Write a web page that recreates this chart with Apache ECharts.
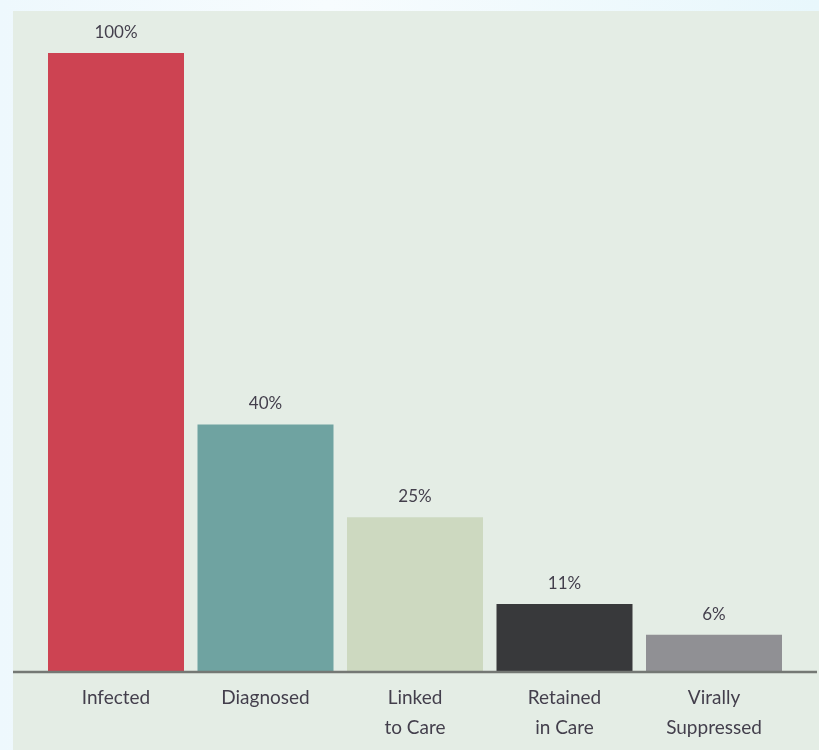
<!DOCTYPE html>
<html>
<head>
<meta charset="utf-8">
<script src="https://cdn.jsdelivr.net/npm/echarts@6/dist/echarts.min.js"></script>
<style>
  html, body { margin: 0; padding: 0; }
  body { background: linear-gradient(90deg, #eef8fd 0%, #f7fcfe 40%, #e8f7fc 100%); }
  #chart { width: 819px; height: 750px; }
</style>
</head>
<body>
<div id="chart"></div>
<script>
// HIV care cascade
const categories = ['Infected', 'Diagnosed', 'Linked\nto Care', 'Retained\nin Care', 'Virally\nSuppressed'];
const values = [100, 40, 25, 11, 6];
const barColors = ['#cd4352', '#6fa3a1', '#cdd9c0', '#38393b', '#909094'];

const textColor = '#433f4c';
const fontFamily = 'Lato, "Open Sans", sans-serif';

const chart = echarts.init(document.getElementById('chart'), null, { renderer: 'canvas' });

const gridBottom = 78;

chart.setOption({
  backgroundColor: 'transparent',
  animation: false,
  graphic: [
    {
      type: 'rect',
      z: -10,
      shape: { x: 13, y: 11, width: 806, height: 739 },
      style: { fill: '#e4ede5' }
    },
    {
      type: 'line',
      z: 10,
      shape: { x1: 13, y1: 750 - gridBottom, x2: 817, y2: 750 - gridBottom },
      style: { stroke: '#747874', lineWidth: 2.5 }
    }
  ],
  grid: { left: 41.25, right: 30.25, top: 53, bottom: gridBottom },
  xAxis: {
    type: 'category',
    data: categories,
    axisLine: { show: false },
    axisTick: { show: false },
    axisLabel: {
      color: textColor,
      fontFamily: fontFamily,
      fontSize: 19,
      lineHeight: 30,
      margin: 11,
      interval: 0
    }
  },
  yAxis: {
    type: 'value',
    min: 0,
    max: 100,
    show: false,
    splitLine: { show: false }
  },
  series: [{
    type: 'bar',
    barWidth: 136,
    data: values.map((v, i) => ({ value: v, itemStyle: { color: barColors[i] } })),
    label: {
      show: true,
      position: 'top',
      distance: 12,
      formatter: '{c}%',
      color: textColor,
      fontFamily: fontFamily,
      fontSize: 17
    }
  }]
});
</script>
</body>
</html>
